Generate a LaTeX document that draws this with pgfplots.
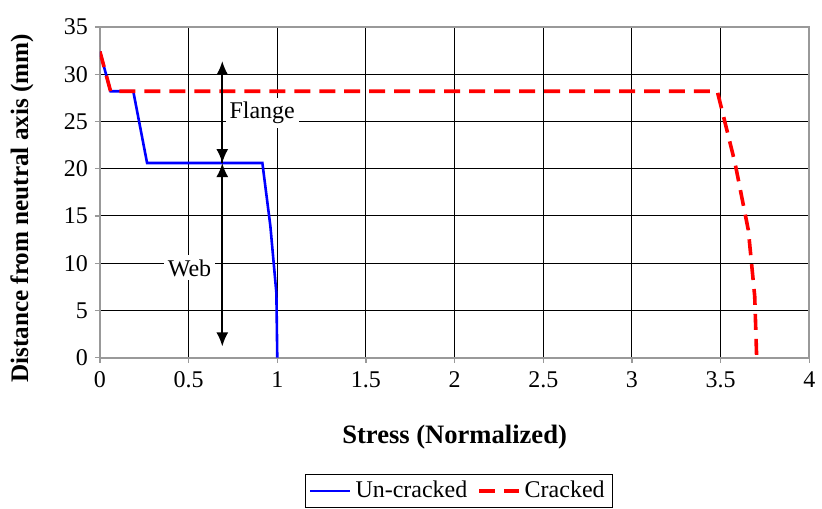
\documentclass[border=0pt]{standalone}
\usepackage{fontspec}
\setmainfont{LiberationSerif}[Extension=.ttf, UprightFont=*-Regular, BoldFont=*-Bold, ItalicFont=*-Italic, BoldItalicFont=*-BoldItalic]
\usepackage{pgfplots}
\pgfplotsset{compat=1.18}
\usetikzlibrary{arrows.meta}
\begin{document}
\begin{tikzpicture}
\begin{axis}[
  scale only axis,
  width=355pt, height=165.5pt,
  xmin=0, xmax=4, ymin=0, ymax=35,
  xtick={0,0.5,...,4}, ytick={0,5,...,35},
  xticklabels={0,0.5,1,1.5,2,2.5,3,3.5,4},
  /pgf/number format/assume math mode=true,
  grid=major,
  major grid style={black, line width=0.5pt},
  axis line style={gray!80, line width=0.9pt},
  tick style={gray!80, line width=0.6pt},
  tick align=outside,
  major tick length=2.5pt,
  xtick pos=bottom, ytick pos=left,
  ticklabel style={font=\fontsize{12}{13}\selectfont},
  xticklabel style={yshift=-1pt},
  xlabel={\textbf{Stress (Normalized)}},
  ylabel={\textbf{Distance from neutral axis (mm)}},
  xlabel style={font=\fontsize{13.3}{15}\selectfont, at={(axis description cs:0.5,-0.2387)}, anchor=center},
  ylabel style={font=\fontsize{12.6}{14}\selectfont, at={(axis description cs:-0.1099,0.4517)}, anchor=center},
  legend style={at={(axis description cs:0.506,-0.3505)}, anchor=north, legend columns=2,
    draw=black, line width=0.6pt, font=\fontsize{12}{13}\selectfont,
    /tikz/every even column/.append style={column sep=3pt}, inner xsep=2pt, inner ysep=1.5pt},
  legend image code/.code={\draw[#1] (0cm,0cm) -- (0.7cm,0cm);},
]
\addplot[blue, line width=1.3pt] coordinates {
 (0,32.4) (0.06,28.2) (0.188,28.2) (0.266,20.6) (0.916,20.6)
 (0.961,13.95) (0.995,6.84) (1.0,0)
};
\addlegendentry{Un-cracked}
\addplot[red, line width=1.8pt, dash pattern=on 8pt off 4.5pt] coordinates {
 (0,32.4) (0.06,28.2) (3.481,28.2) (3.581,20.6) (3.656,13.5) (3.692,6.5) (3.703,0)
};
\addlegendentry{Cracked}
\draw[black, line width=0.9pt, -{Latex[length=7pt,width=6pt]}] (axis cs:0.69,20.6) -- (axis cs:0.69,31.4);
\draw[black, line width=0.9pt, -{Latex[length=7pt,width=6pt]}] (axis cs:0.69,25) -- (axis cs:0.69,20.6);
\draw[black, line width=0.9pt, -{Latex[length=7pt,width=6pt]}] (axis cs:0.69,10) -- (axis cs:0.69,1.2);
\draw[black, line width=0.9pt, -{Latex[length=7pt,width=6pt]}] (axis cs:0.69,10) -- (axis cs:0.69,20.6);
\node[fill=white, inner sep=2pt, font=\fontsize{12}{13}\selectfont] at (axis cs:0.915,25.9) {Flange};
\node[fill=white, inner sep=2pt, font=\fontsize{12}{13}\selectfont] at (axis cs:0.505,9.5) {Web};
\end{axis}
\path ([yshift=13.5pt]current axis.north);
\path ([xshift=6pt]current axis.east);
\path ([xshift=-50pt]current axis.west);
\end{tikzpicture}
\end{document}
